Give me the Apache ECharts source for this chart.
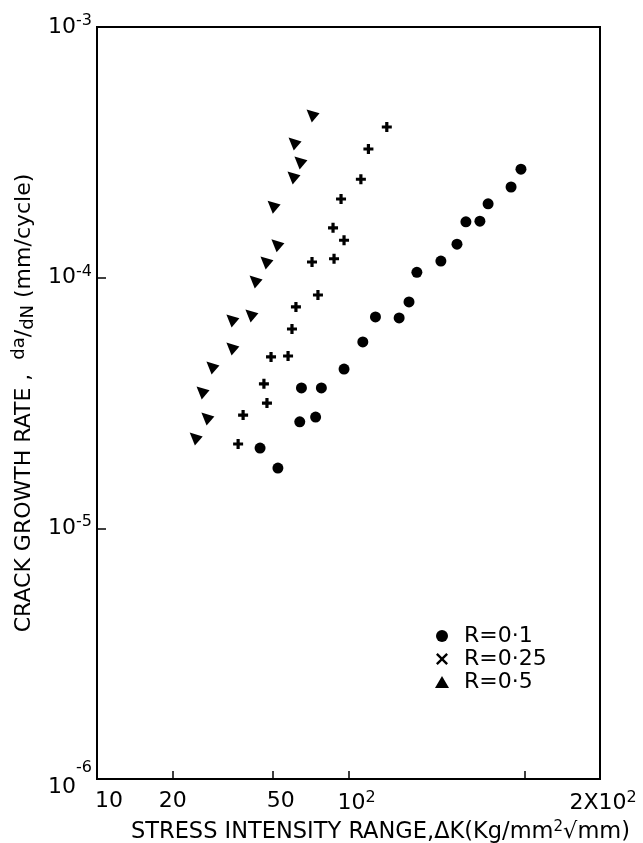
<!DOCTYPE html>
<html>
<head>
<meta charset="utf-8">
<script src="https://cdn.jsdelivr.net/npm/echarts@6/dist/echarts.min.js"></script>
<style>
html,body{margin:0;padding:0;background:#fff;}
#chart{width:643px;height:843px;}
</style>
</head>
<body>
<div id="chart"></div>
<script>
// ---- data (ΔK in Kg/mm^2√mm, da/dN in mm/cycle) ----
const seriesNames = ['R=0·1', 'R=0·25', 'R=0·5'];

const r01_dK   = [485, 443, 359, 333, 293, 270, 233, 187, 174, 159, 128, 114, 96, 78, 65, 74, 64, 44.5, 52.4];
const r01_rate = [2.71e-4, 2.30e-4, 1.97e-4, 1.68e-4, 1.67e-4, 1.36e-4, 1.165e-4, 1.05e-4, 8.0e-5, 6.91e-5, 6.97e-5, 5.54e-5, 4.32e-5, 3.63e-5, 3.63e-5, 2.78e-5, 2.66e-5, 2.09e-5, 1.74e-5];

const r025_dK   = [142, 120, 112, 93.4, 86.8, 96.0, 71.6, 87.6, 75.6, 61.8, 59.6, 49.2, 57.5, 46.1, 47.4, 38.1, 36.4];
const r025_rate = [3.99e-4, 3.26e-4, 2.47e-4, 2.06e-4, 1.58e-4, 1.41e-4, 1.155e-4, 1.19e-4, 8.53e-5, 7.64e-5, 6.24e-5, 4.83e-5, 4.87e-5, 3.77e-5, 3.16e-5, 2.83e-5, 2.17e-5];

const r05_dK   = [72.3, 61.3, 64.7, 60.7, 50.6, 52.4, 47.4, 42.9, 41.3, 34.7, 34.7, 28.9, 26.4, 27.6, 24.8];
const r05_rate = [4.42e-4, 3.41e-4, 2.87e-4, 2.50e-4, 1.91e-4, 1.34e-4, 1.145e-4, 9.61e-5, 7.04e-5, 6.72e-5, 5.19e-5, 4.36e-5, 3.47e-5, 2.73e-5, 2.27e-5];

// ---- axis ticks / labels ----
const xMin = 10, xMax = 1000;
const xTickValues  = [20, 50, 100, 500];
const xLabelValues = [10, 20, 50, 100, 1000];
const xLabelTexts  = ['{p|10}', '20', '{q|50}', '{q|10}{s|2}', '{r|2X10}{s|2}'];
const yMin = 1e-6, yMax = 1e-3;
const yTickValues  = [1e-5, 1e-4];
const yLabelValues = [1e-6, 1e-5, 1e-4, 1e-3];
const yLabelTexts  = ['{lo|10}{s|-6}', '10{s|-5}', '10{s|-4}', '10{s|-3}'];

const xAxisName = 'STRESS INTENSITY RANGE,ΔK(Kg/mm{s|2}√mm)';
const yAxisName = 'CRACK GROWTH RATE ,  {s|da}/{b|dN} (mm/cycle)';

// ---- build ----
const FONT = 'DejaVu Sans';
const INK = '#000';
function pairs(xs, ys){ return xs.map((x,i)=>[x, ys[i]]); }
function labelFor(vals, texts, v){
  for (let i=0;i<vals.length;i++){ if (Math.abs(Math.log10(v)-Math.log10(vals[i]))<1e-6) return texts[i]; }
  return '';
}
const plusPath  = 'path://M-1.6,-5 L1.6,-5 L1.6,-1.6 L5,-1.6 L5,1.6 L1.6,1.6 L1.6,5 L-1.6,5 L-1.6,1.6 L-5,1.6 L-5,-1.6 L-1.6,-1.6 Z';
const crossPath = 'path://M-5,-3.6 L-3.6,-5 L0,-1.4 L3.6,-5 L5,-3.6 L1.4,0 L5,3.6 L3.6,5 L0,1.4 L-3.6,5 L-5,3.6 L-1.4,0 Z';
const triMark   = 'path://M0,0 L10,3 L4,10 Z';

const chart = echarts.init(document.getElementById('chart'), null, {renderer:'canvas'});
chart.setOption({
  animation: false,
  backgroundColor: '#fff',
  textStyle: {fontFamily: FONT, color: INK},
  grid: {left: 97, right: 43, top: 27, bottom: 64, containLabel: false, outerBoundsMode: 'none',
         show: true, borderColor: INK, borderWidth: 2, backgroundColor: 'transparent'},
  legend: {
    orient: 'vertical', left: 430, top: 620,
    itemWidth: 14, itemHeight: 12, itemGap: 1,
    textStyle: {fontFamily: FONT, fontSize: 22, color: INK, padding: [0,0,0,10], lineHeight: 20},
    data: [
      {name: seriesNames[0], icon: 'circle'},
      {name: seriesNames[1], icon: crossPath},
      {name: seriesNames[2], icon: 'triangle'}
    ]
  },
  xAxis: {
    type: 'log', logBase: 10, min: xMin, max: xMax,
    name: xAxisName, nameLocation: 'middle', nameGap: 40,
    nameTextStyle: {fontFamily: FONT, fontSize: 22.5, color: INK, padding: [0,0,0,64],
      rich: {s: {fontSize: 15, verticalAlign: 'top', padding: [0,0,10,0], fontFamily: FONT, color: INK}}},
    axisLine: {show: true, lineStyle: {color: INK, width: 2}},
    axisTick: {show: true, inside: true, length: 8, customValues: xTickValues, lineStyle: {color: INK, width: 1.5}},
    minorTick: {show: false},
    splitLine: {show: false},
    axisLabel: {
      customValues: xLabelValues, margin: 11, fontSize: 22, color: INK, fontFamily: FONT,
      showMinLabel: true, showMaxLabel: true, hideOverlap: false,
      formatter: v => labelFor(xLabelValues, xLabelTexts, v),
      rich: {
        s: {fontSize: 16, verticalAlign: 'top', padding: [0,0,11,0], fontFamily: FONT, color: INK},
        p: {fontSize: 22, padding: [0,0,0,24], fontFamily: FONT, color: INK},
        q: {fontSize: 22, padding: [0,0,0,16], fontFamily: FONT, color: INK},
        r: {fontSize: 22, padding: [0,0,0,6], fontFamily: FONT, color: INK}
      }
    }
  },
  yAxis: {
    type: 'log', logBase: 10, min: yMin, max: yMax,
    name: yAxisName, nameLocation: 'middle', nameGap: 45, nameRotate: 90,
    nameTextStyle: {fontFamily: FONT, fontSize: 22, color: INK,
      rich: {
        s: {fontSize: 18, padding: [0,0,10,0], fontFamily: FONT, color: INK},
        b: {fontSize: 18, padding: [8,0,0,0], fontFamily: FONT, color: INK}
      }},
    axisLine: {show: true, lineStyle: {color: INK, width: 2}},
    axisTick: {show: true, inside: true, length: 9, customValues: yTickValues, lineStyle: {color: INK, width: 1.5}},
    minorTick: {show: false},
    splitLine: {show: false},
    axisLabel: {
      customValues: yLabelValues, margin: 5, fontSize: 22, color: INK, fontFamily: FONT,
      showMinLabel: true, showMaxLabel: true, hideOverlap: false,
      formatter: v => labelFor(yLabelValues, yLabelTexts, v),
      rich: {
        s: {fontSize: 16, verticalAlign: 'top', padding: [0,0,12,0], fontFamily: FONT, color: INK},
        lo: {fontSize: 22, padding: [16,0,0,0], fontFamily: FONT, color: INK}
      }
    }
  },
  series: [
    {name: seriesNames[0], type: 'scatter', data: pairs(r01_dK, r01_rate),
     symbol: 'circle', symbolSize: 11, itemStyle: {color: INK, opacity: 1}},
    {name: seriesNames[1], type: 'scatter', data: pairs(r025_dK, r025_rate),
     symbol: plusPath, symbolSize: 10, itemStyle: {color: INK, opacity: 1}},
    {name: seriesNames[2], type: 'scatter', data: pairs(r05_dK, r05_rate),
     symbol: triMark, symbolSize: 13, itemStyle: {color: INK, opacity: 1}}
  ]
});
</script>
</body>
</html>
